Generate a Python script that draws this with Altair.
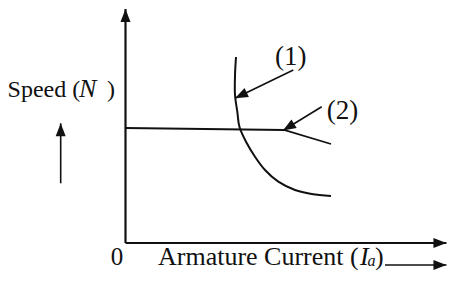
import math
import altair as alt
import pandas as pd

# ---- data (arbitrary units: armature current 0..10, speed 0..10) ----
# Curve (1): series-type characteristic
curve1_current = [3.374, 3.344, 3.344, 3.414, 3.481, 3.701, 3.954, 4.260, 4.666, 5.176, 5.685, 6.275]
curve1_speed = [7.949, 7.179, 6.325, 5.611, 4.957, 4.274, 3.688, 3.120, 2.620, 2.265, 2.094, 2.009]
# Curve (2): shunt-type characteristic
curve2_current = [0.0, 4.840, 6.275]
curve2_speed = [4.915, 4.829, 4.231]

# axes and annotation arrows: start -> tip
arrow_names = ["y-axis", "x-axis", "label1", "label2", "xlabel", "ylabel"]
arrow_x0 = [0.0, 0.0, 5.124, 5.991, 7.924, -1.979]
arrow_y0 = [0.0, 0.0, 7.393, 5.825, -0.940, 2.551]
arrow_x1 = [0.0, 9.8, 3.344, 4.809, 9.8, -1.979]
arrow_y1 = [10.0, 0.0, 6.184, 4.808, -0.940, 5.115]
arrow_w = [2.2, 2.2, 1.6, 1.6, 1.6, 1.6]

# text pieces
text_labels = ["Speed (", "N", ")", "Armature Current (", "I", "a", ")", "0", "(1)", "(2)"]
text_x = [-3.60, -1.42, -0.563, 0.992, 7.160, 7.390, 7.620, -0.260, 4.565, 6.144]
text_y = [6.218, 6.218, 6.218, -0.940, -0.940, -0.990, -0.940, -0.940, 7.60, 5.30]
text_size = [24, 26, 24, 26, 26, 16, 26, 25, 27, 27]
text_style = ["normal", "italic", "normal", "normal", "italic", "italic", "normal", "normal", "normal", "normal"]
text_align = ["left", "left", "left", "left", "left", "left", "left", "center", "left", "left"]

# ---- layout ----
W, H = 439, 262
ORIG_X, ORIG_Y = 117.5, 235.0     # origin inside the svg
SX, SY = 32.75, 23.4              # pixels per unit
x_dom = [-ORIG_X / SX, (W - ORIG_X) / SX]
y_dom = [-(H - ORIG_Y) / SY, ORIG_Y / SY]
xs = alt.Scale(domain=x_dom, range=[0, W], nice=False, zero=False)
ys = alt.Scale(domain=y_dom, range=[H, 0], nice=False, zero=False)
INK = "#111111"
FONT = "Liberation Serif"

c1 = pd.DataFrame({"x": curve1_current, "y": curve1_speed, "o": range(len(curve1_current))})
c2 = pd.DataFrame({"x": curve2_current, "y": curve2_speed, "o": range(len(curve2_current))})

arr = pd.DataFrame({"name": arrow_names, "x": arrow_x0, "y": arrow_y0,
                    "x2": arrow_x1, "y2": arrow_y1, "w": arrow_w})
angles = []
for a, b, c, d in zip(arrow_x0, arrow_y0, arrow_x1, arrow_y1):
    dx = (c - a) * SX
    dy = -(d - b) * SY
    angles.append(math.degrees(math.atan2(dx, -dy)) % 360)
arr["angle"] = angles

line1 = alt.Chart(c1).mark_line(interpolate="catmull-rom", color=INK, strokeWidth=2.0).encode(
    x=alt.X("x:Q", scale=xs, axis=None), y=alt.Y("y:Q", scale=ys, axis=None), order="o:Q")
line2 = alt.Chart(c2).mark_line(color=INK, strokeWidth=1.8).encode(
    x=alt.X("x:Q", scale=xs, axis=None), y=alt.Y("y:Q", scale=ys, axis=None), order="o:Q")

rules = alt.Chart(arr).mark_rule(color=INK).encode(
    x=alt.X("x:Q", scale=xs, axis=None), y=alt.Y("y:Q", scale=ys, axis=None),
    x2="x2:Q", y2="y2:Q", strokeWidth=alt.StrokeWidth("w:Q", scale=None))

heads = alt.Chart(arr).mark_point(shape="M0,0L-0.77,2L0.77,2Z", filled=True, size=169,
                                  color=INK, opacity=1, strokeWidth=0).encode(
    x=alt.X("x2:Q", scale=xs, axis=None), y=alt.Y("y2:Q", scale=ys, axis=None),
    angle=alt.Angle("angle:Q", scale=None))

layers = [line1, line2, rules, heads]
for lab, tx, ty, sz, st, al in zip(text_labels, text_x, text_y, text_size, text_style, text_align):
    df = pd.DataFrame({"x": [tx], "y": [ty], "t": [lab]})
    layers.append(alt.Chart(df).mark_text(font=FONT, fontSize=sz, fontStyle=st, align=al,
                                          baseline="alphabetic", color=INK).encode(
        x=alt.X("x:Q", scale=xs, axis=None), y=alt.Y("y:Q", scale=ys, axis=None), text="t:N"))

chart = alt.layer(*layers).properties(
    width=W, height=H, padding=0, autosize=alt.AutoSizeParams(type="none"),
    background="white").configure_view(stroke=None)

chart.save("out.html", embed_options={"renderer": "svg", "actions": False})
